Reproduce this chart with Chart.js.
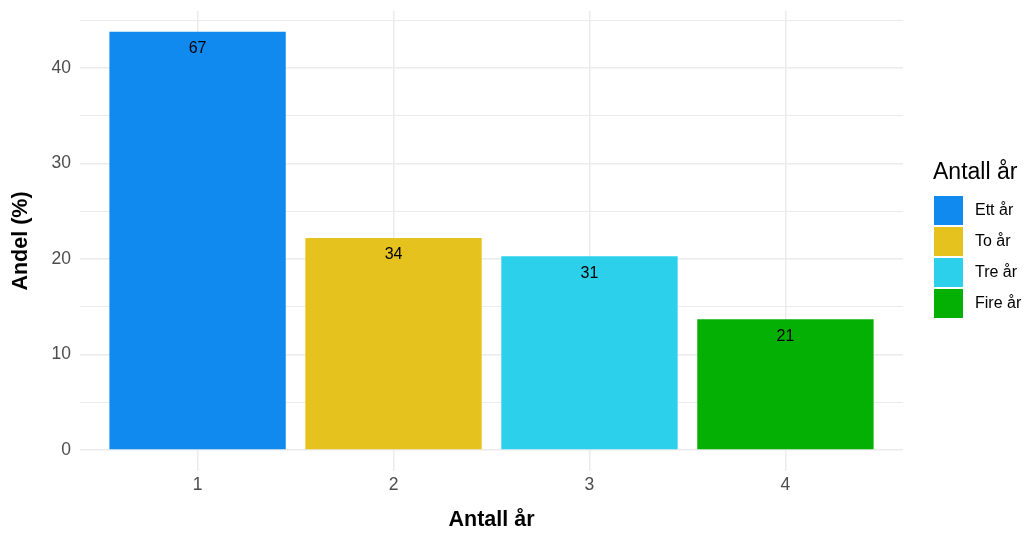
<!DOCTYPE html>
<html>
<head>
<meta charset="utf-8">
<script src="https://cdn.jsdelivr.net/npm/chart.js@4"></script>
<style>
  html, body { margin: 0; padding: 0; background: #fff; }
  #wrap { width: 1024px; height: 533px; }
</style>
</head>
<body>
<div id="wrap"><canvas id="andel-chart"></canvas></div>
<script>
// data
const positions = [1, 2, 3, 4];
const categories = ['Ett år', 'To år', 'Tre år', 'Fire år'];
const shares = [43.8, 22.2, 20.3, 13.7];
const counts = [67, 34, 31, 21];
const colors = ['#108AEF', '#E5C21D', '#2DD0EB', '#04B004'];
const yTicks = [0, 5, 10, 15, 20, 25, 30, 35, 40, 45];

const FONT = "'Liberation Sans', Arial, sans-serif";
const GRID = '#EBEBEB';

const barLabels = {
  id: 'barLabels',
  afterDatasetsDraw(chart) {
    const ctx = chart.ctx;
    const meta = chart.getDatasetMeta(0);
    ctx.save();
    ctx.font = '16px ' + FONT;
    ctx.fillStyle = '#000';
    ctx.textAlign = 'center';
    ctx.textBaseline = 'middle';
    meta.data.forEach((bar, i) => {
      ctx.fillText(String(counts[i]), bar.x, bar.y + 17);
    });
    ctx.restore();
  }
};

const sideLegend = {
  id: 'sideLegend',
  afterDraw(chart) {
    const ctx = chart.ctx;
    const left = chart.chartArea.right + 31;
    ctx.save();
    ctx.fillStyle = '#000';
    ctx.textBaseline = 'middle';
    ctx.textAlign = 'left';
    ctx.font = '23px ' + FONT;
    ctx.fillText('Antall år', left - 1, 173);
    ctx.font = '16px ' + FONT;
    categories.forEach((name, i) => {
      const top = 196 + i * 31;
      ctx.fillStyle = colors[i];
      ctx.fillRect(left, top, 29, 29);
      ctx.fillStyle = '#000';
      ctx.fillText(name, left + 41, top + 15);
    });
    ctx.restore();
  }
};

const ctx = document.getElementById('andel-chart');
new Chart(ctx, {
  type: 'bar',
  data: {
    datasets: [{
      data: positions.map((p, i) => ({ x: p, y: shares[i] })),
      backgroundColor: colors,
      borderWidth: 0,
      categoryPercentage: 1,
      barPercentage: 0.9
    }]
  },
  options: {
    responsive: true,
    maintainAspectRatio: false,
    animation: false,
    layout: { padding: { top: 11, right: 121, left: 0, bottom: 0 } },
    plugins: { legend: { display: false }, tooltip: { enabled: false } },
    scales: {
      x: {
        type: 'linear',
        min: 0.4,
        max: 4.6,
        offset: false,
        afterBuildTicks: s => { s.ticks = positions.map(v => ({ value: v })); },
        afterFit: s => { s.height = 62; },
        grid: { offset: false, color: GRID, lineWidth: 1.5, drawTicks: false },
        border: { display: false },
        ticks: { color: '#4D4D4D', font: { family: FONT, size: 17.5 }, padding: 4 },
        title: { display: true, text: 'Antall år', color: '#000', font: { family: FONT, size: 21.5, weight: 'bold' }, padding: { top: 4, bottom: 0 } }
      },
      y: {
        min: -2.19,
        max: 45.98,
        afterBuildTicks: s => { s.ticks = yTicks.map(v => ({ value: v })); },
        afterFit: s => { s.width = 80; s.paddingTop = 0; s.paddingBottom = 0; },
        grid: {
          color: GRID,
          lineWidth: c => (c.tick && c.tick.value % 10 === 0 ? 1.5 : 1),
          drawTicks: false
        },
        border: { display: false },
        ticks: {
          color: '#4D4D4D',
          font: { family: FONT, size: 17.5 },
          padding: 9,
          callback: v => (v % 10 === 0 ? v : '')
        },
        title: { display: true, text: 'Andel (%)', color: '#000', font: { family: FONT, size: 21.5, weight: 'bold' }, padding: { top: 8, bottom: 4 } }
      }
    }
  },
  plugins: [barLabels, sideLegend]
});
</script>
</body>
</html>
